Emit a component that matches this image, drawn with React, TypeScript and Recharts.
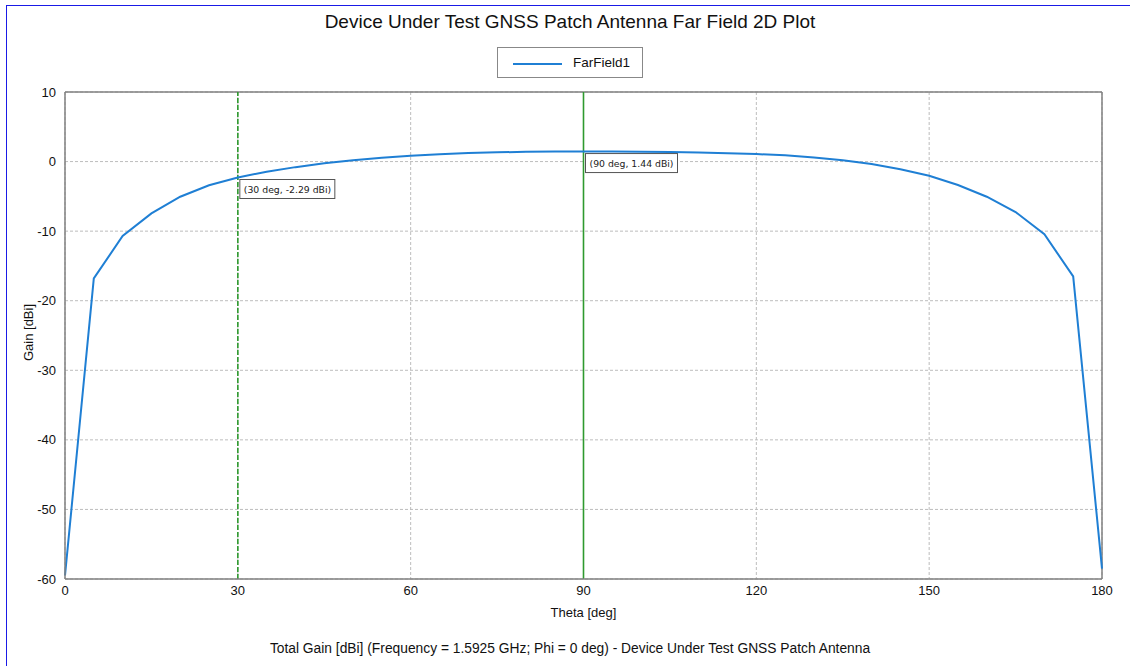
import React from 'react';
import {
  LineChart,
  Line,
  XAxis,
  YAxis,
  CartesianGrid,
  ReferenceLine,
  ReferenceDot,
} from 'recharts';

const thetaDeg = [
  0, 5, 10, 15, 20, 25, 30, 35, 40, 45, 50, 55, 60, 65, 70, 75, 80, 85, 90,
  95, 100, 105, 110, 115, 120, 125, 130, 135, 140, 145, 150, 155, 160, 165,
  170, 175, 180,
];
const gainDbi = [
  -59.5, -16.8, -10.7, -7.45, -5.05, -3.4, -2.29, -1.45, -0.8, -0.25, 0.2,
  0.55, 0.85, 1.05, 1.22, 1.33, 1.4, 1.43, 1.44, 1.44, 1.42, 1.38, 1.3, 1.2,
  1.08, 0.9, 0.6, 0.2, -0.35, -1.1, -2.05, -3.37, -5.05, -7.25, -10.45, -16.5,
  -58.5,
];
const xTicks = [0, 30, 60, 90, 120, 150, 180];
const yTicks = [-60, -50, -40, -30, -20, -10, 0, 10];
const markers = [
  { theta: 30, gain: -2.29, label: '(30 deg, -2.29 dBi)', dashed: true },
  { theta: 90, gain: 1.44, label: '(90 deg, 1.44 dBi)', dashed: false },
];

const data = thetaDeg.map((t, i) => ({ theta: t, gain: gainDbi[i] }));

const FONT = '"Liberation Sans", Arial, sans-serif';

const makeCallout = (text: string, w: number) => (props: any) => {
  const { cx, cy } = props;
  return (
    <g>
      <rect x={cx + 2} y={cy + 2} width={w} height={19} fill="#fff" stroke="#555" strokeWidth={1} />
      <text x={cx + 6} y={cy + 15.5} fontSize={9.3} fontFamily='"DejaVu Sans", sans-serif' fill="#222">
        {text}
      </text>
    </g>
  );
};

export default function App() {
  return (
    <div
      style={{
        position: 'absolute',
        left: 0,
        top: 0,
        width: 1130,
        height: 666,
        background: '#fff',
        fontFamily: FONT,
        overflow: 'hidden',
      }}
    >
      {/* blue frame lines */}
      <div style={{ position: 'absolute', left: 6, top: 5, width: 1, height: 661, background: '#1a1ae6' }} />
      <div style={{ position: 'absolute', left: 6, top: 5, width: 1124, height: 1, background: '#1a1ae6' }} />

      {/* title */}
      <div
        style={{
          position: 'absolute',
          left: 0,
          top: 11,
          width: 1140,
          textAlign: 'center',
          fontSize: 19,
          color: '#111',
        }}
      >
        Device Under Test GNSS Patch Antenna Far Field 2D Plot
      </div>

      {/* legend */}
      <div
        style={{
          position: 'absolute',
          left: 497,
          top: 47,
          width: 146,
          height: 31,
          border: '1px solid #888',
          boxSizing: 'border-box',
        }}
      >
        <div style={{ position: 'absolute', left: 15, top: 15, width: 49, height: 2, background: '#1f7fd4' }} />
        <div style={{ position: 'absolute', left: 75, top: 7, fontSize: 13.5, color: '#111' }}>FarField1</div>
      </div>

      <div style={{ position: 'absolute', left: 0, top: 0 }}>
        <LineChart
          width={1130}
          height={666}
          data={data}
          margin={{ top: 92, right: 28, left: 5, bottom: 57 }}
        >
          <CartesianGrid stroke="#bdbdbd" strokeDasharray="3 2" />
          <XAxis
            dataKey="theta"
            type="number"
            domain={[0, 180]}
            ticks={xTicks}
            tickLine={false}
            axisLine={{ stroke: '#808080', strokeWidth: 1.5 }}
            tick={{ fontSize: 13, fill: '#111', fontFamily: FONT }}
            tickMargin={1}
            height={30}
            label={{ value: 'Theta [deg]', position: 'insideBottom', offset: -8, fontSize: 13, fill: '#111', fontFamily: FONT }}
          />
          <YAxis
            type="number"
            domain={[-60, 10]}
            ticks={yTicks}
            tickLine={false}
            axisLine={{ stroke: '#808080', strokeWidth: 1.5 }}
            tick={{ fontSize: 13, fill: '#111', fontFamily: FONT }}
            tickMargin={3}
            width={60}
            interval={0}
            label={{ value: 'Gain [dBi]', angle: -90, position: 'center', dx: -7, dy: -3, fontSize: 13, fill: '#111', fontFamily: FONT }}
          />
          <ReferenceLine y={10} stroke="#808080" strokeWidth={1.5} />
          <ReferenceLine x={180} stroke="#808080" strokeWidth={1.5} />
          {markers.map((m) => (
            <ReferenceLine
              key={'l' + m.theta}
              x={m.theta}
              stroke="#2f9a2f"
              strokeWidth={1.6}
              strokeDasharray={m.dashed ? '5 2' : undefined}
            />
          ))}
          <Line
            type="linear"
            dataKey="gain"
            stroke="#1f7fd4"
            strokeWidth={2}
            dot={false}
            isAnimationActive={false}
          />
          {markers.map((m, i) => (
            <ReferenceDot
              key={'d' + m.theta}
              x={m.theta}
              y={m.gain}
              r={0}
              shape={makeCallout(m.label, i === 0 ? 95 : 92)}
            />
          ))}
        </LineChart>
      </div>

      {/* footer */}
      <div
        style={{
          position: 'absolute',
          left: 0,
          top: 641,
          width: 1140,
          textAlign: 'center',
          fontSize: 13.8,
          color: '#111',
        }}
      >
        Total Gain [dBi] (Frequency = 1.5925 GHz; Phi = 0 deg) - Device Under Test GNSS Patch Antenna
      </div>
    </div>
  );
}
